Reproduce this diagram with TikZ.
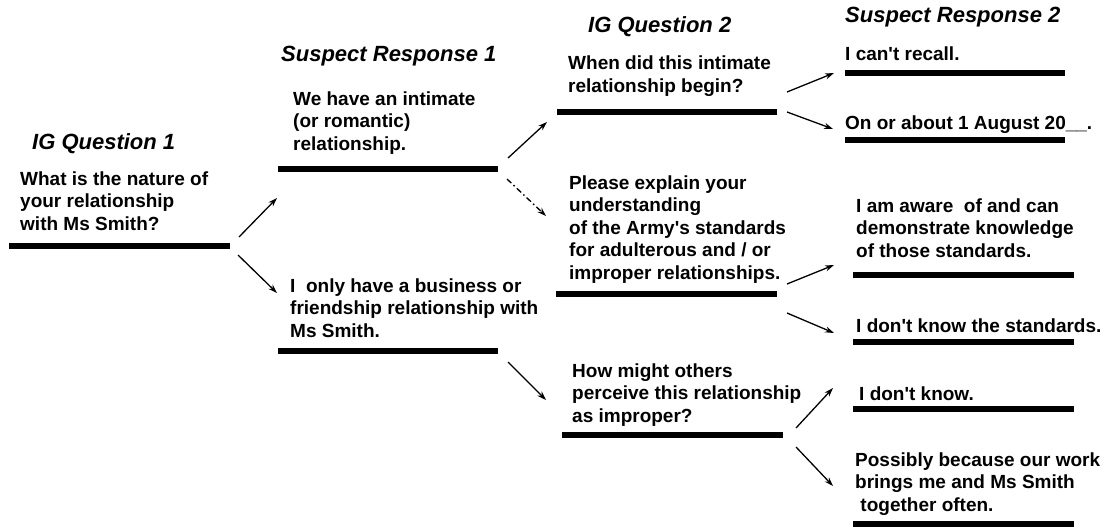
\documentclass[tikz,border=0pt]{standalone}
\usepackage{fontspec}
\setmainfont{Liberation Sans}
\usetikzlibrary{arrows.meta}
\newcommand{\txtblock}[1]{\begin{tabular}[t]{@{}l@{}}#1\end{tabular}}
\newcommand{\aps}{\textquotesingle}
\begin{document}
\begin{tikzpicture}[x=1pt,y=-1pt,
  body/.style={anchor=base west,inner sep=0pt,font=\fontsize{19}{22.5}\selectfont\bfseries},
  head/.style={anchor=base west,inner sep=0pt,font=\fontsize{22}{26}\selectfont\bfseries\itshape},
  bar/.style={line width=6pt},
  arr/.style={line width=1.3pt,-{Stealth[length=9pt,width=6pt]}},
  dashdot/.style={arr,dash pattern=on 6pt off 3pt on 1.5pt off 3pt}]
\useasboundingbox (0,0) rectangle (1107,527);
\renewcommand{\arraystretch}{1}

% column headings
\node[head] (h1) at (32,149) {IG Question 1};
\node[head] (h2) at (281,62) {Suspect Response 1};
\node[head] (h3) at (588,33) {IG Question 2};
\node[head] (h4) at (845,23) {Suspect Response 2};

% first question
\node[body] (q1) at (20,185) {\txtblock{What is the nature of\\your relationship\\with Ms Smith?}};
\draw[bar] (9,246) coordinate (q1l) -- (230,246) coordinate (q1r);

% first responses
\node[body] (s1a) at (293,105) {\txtblock{We have an intimate\\(or romantic)\\relationship.}};
\draw[bar] (278,169) coordinate (s1al) -- (498,169) coordinate (s1ar);
\node[body] (s1b) at (290,292) {\txtblock{I\ \ only have a business or\\friendship relationship with\\Ms Smith.}};
\draw[bar] (278,351) coordinate (s1bl) -- (498,351) coordinate (s1br);

% second questions
\node[body] (q2a) at (568,70) {\txtblock{When did this intimate\\relationship begin?}};
\draw[bar] (557,112) coordinate (q2al) -- (777,112) coordinate (q2ar);
\node[body] (q2b) at (569,189) {\txtblock{Please explain your\\understanding\\of the Army\aps s standards\\for adulterous and / or\\improper relationships.}};
\draw[bar] (556,294) coordinate (q2bl) -- (777,294) coordinate (q2br);
\node[body] (q2c) at (572,377) {\txtblock{How might others\\perceive this relationship\\as improper?}};
\draw[bar] (562,435) coordinate (q2cl) -- (783,435) coordinate (q2cr);

% second responses
\node[body] (r1) at (845,60) {I can\aps t recall.};
\draw[bar] (845,73) coordinate (r1l) -- (1065,73) coordinate (r1r);
\node[body] (r2) at (845,129) {On or about 1 August 20\_\_.};
\draw[bar] (845,140) coordinate (r2l) -- (1065,140) coordinate (r2r);
\node[body] (r3) at (856,212) {\txtblock{I am aware\ \ of and can\\demonstrate knowledge\\of those standards.}};
\draw[bar] (853,275) coordinate (r3l) -- (1074,275) coordinate (r3r);
\node[body] (r4) at (856,332) {I don\aps t know the standards.};
\draw[bar] (853,342) coordinate (r4l) -- (1074,342) coordinate (r4r);
\node[body] (r5) at (859,400) {I don\aps t know.};
\draw[bar] (853,409) coordinate (r5l) -- (1074,409) coordinate (r5r);
\node[body] (r6) at (855,466) {\txtblock{Possibly because our work\\brings me and Ms Smith\\\ together often.}};
\draw[bar] (853,524) coordinate (r6l) -- (1074,524) coordinate (r6r);

% connector end points
\coordinate (a1s) at (239,237); \coordinate (a1e) at (277,198);
\coordinate (a2s) at (238,255); \coordinate (a2e) at (277,293);
\coordinate (a3s) at (508,158); \coordinate (a3e) at (547,122);
\coordinate (a4s) at (507,179); \coordinate (a4e) at (546,216);
\coordinate (a5s) at (508,362); \coordinate (a5e) at (546,400);
\coordinate (a6s) at (787,92);  \coordinate (a6e) at (834,73);
\coordinate (a7s) at (787,112); \coordinate (a7e) at (833,129);
\coordinate (a8s) at (787,284); \coordinate (a8e) at (834,265);
\coordinate (a9s) at (787,313); \coordinate (a9e) at (834,333);
\coordinate (a10s) at (796,428); \coordinate (a10e) at (833,388);
\coordinate (a11s) at (796,447); \coordinate (a11e) at (833,486);

% connectors
\draw[arr] (a1s) -- (a1e);
\draw[arr] (a2s) -- (a2e);
\draw[arr] (a3s) -- (a3e);
\draw[dashdot] (a4s) -- (a4e);
\draw[arr] (a5s) -- (a5e);
\draw[arr] (a6s) -- (a6e);
\draw[arr] (a7s) -- (a7e);
\draw[arr] (a8s) -- (a8e);
\draw[arr] (a9s) -- (a9e);
\draw[arr] (a10s) -- (a10e);
\draw[arr] (a11s) -- (a11e);
\end{tikzpicture}
\end{document}
